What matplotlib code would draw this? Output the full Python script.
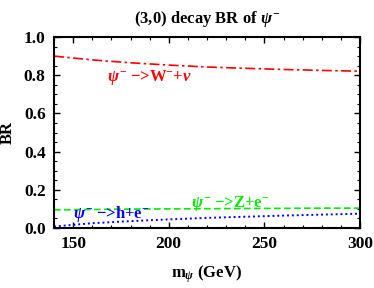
import matplotlib
matplotlib.use("Agg")
import matplotlib.pyplot as plt
from matplotlib.ticker import MultipleLocator

plt.rcParams['font.family'] = ['Liberation Serif', 'DejaVu Serif']
plt.rcParams['mathtext.fontset'] = 'custom'
plt.rcParams['mathtext.rm'] = 'Liberation Serif:bold'
plt.rcParams['mathtext.it'] = 'Liberation Serif:bold:italic'
plt.rcParams['mathtext.bf'] = 'Liberation Serif:bold'

mass = [140, 160, 180, 200, 220, 240, 260, 280, 300]
br_W = [0.900, 0.880, 0.865, 0.853, 0.843, 0.836, 0.830, 0.825, 0.821]
br_Z = [0.095, 0.097, 0.099, 0.100, 0.101, 0.102, 0.103, 0.104, 0.104]
br_h = [0.008, 0.025, 0.036, 0.045, 0.053, 0.059, 0.065, 0.070, 0.075]

fig = plt.figure(figsize=(3.74, 2.88), dpi=100)
ax = fig.add_axes([54/374, 1-228/288, (360-54)/374, (228-37)/288])

ax.plot(mass, br_W, color='red', ls=(0, (6, 2, 1.5, 2)), lw=1.2)
ax.plot(mass, br_Z, color='#00ee00', ls=(0, (4, 2)), lw=1.2)
ax.plot(mass, br_h, color='blue', ls=(0, (1, 1.5)), lw=1.4)

ax.set_xlim(140, 300)
ax.set_ylim(0, 1.0)
ax.xaxis.set_major_locator(MultipleLocator(50))
ax.xaxis.set_minor_locator(MultipleLocator(10))
ax.yaxis.set_major_locator(MultipleLocator(0.2))
ax.yaxis.set_minor_locator(MultipleLocator(0.05))
ax.tick_params(which='both', direction='in', top=True, right=True)
ax.tick_params(which='major', length=4, width=1, labelsize=12.5, pad=6)
ax.tick_params(which='minor', length=2, width=0.8)
for lab in ax.get_xticklabels() + ax.get_yticklabels():
    lab.set_fontweight('bold')
for s in ax.spines.values():
    s.set_linewidth(1.5)

ax.text(190, 0.79, r'$\psi^{-}$ −>W$^{-}$+$\nu$', color='red', fontsize=12,
        fontweight='bold', ha='center', va='center')
ax.text(232, 0.13, r'$\psi^{-}$ −>Z+e$^{-}$', color='#00ee00', fontsize=12,
        fontweight='bold', ha='center', va='center')
ax.text(170, 0.075, r'$\psi^{-}$ −>h+e$^{-}$', color='blue', fontsize=12,
        fontweight='bold', ha='center', va='center')

ax.set_xlabel(r'm$_{\psi}$ (GeV)', fontsize=12, fontweight='bold', labelpad=8)
ax.set_ylabel('BR', fontsize=12, fontweight='bold', labelpad=6)
ax.set_title(r'(3,0) decay BR of $\psi^{-}$', fontsize=12, fontweight='bold', pad=10)

fig.savefig('out.png', dpi=100)
